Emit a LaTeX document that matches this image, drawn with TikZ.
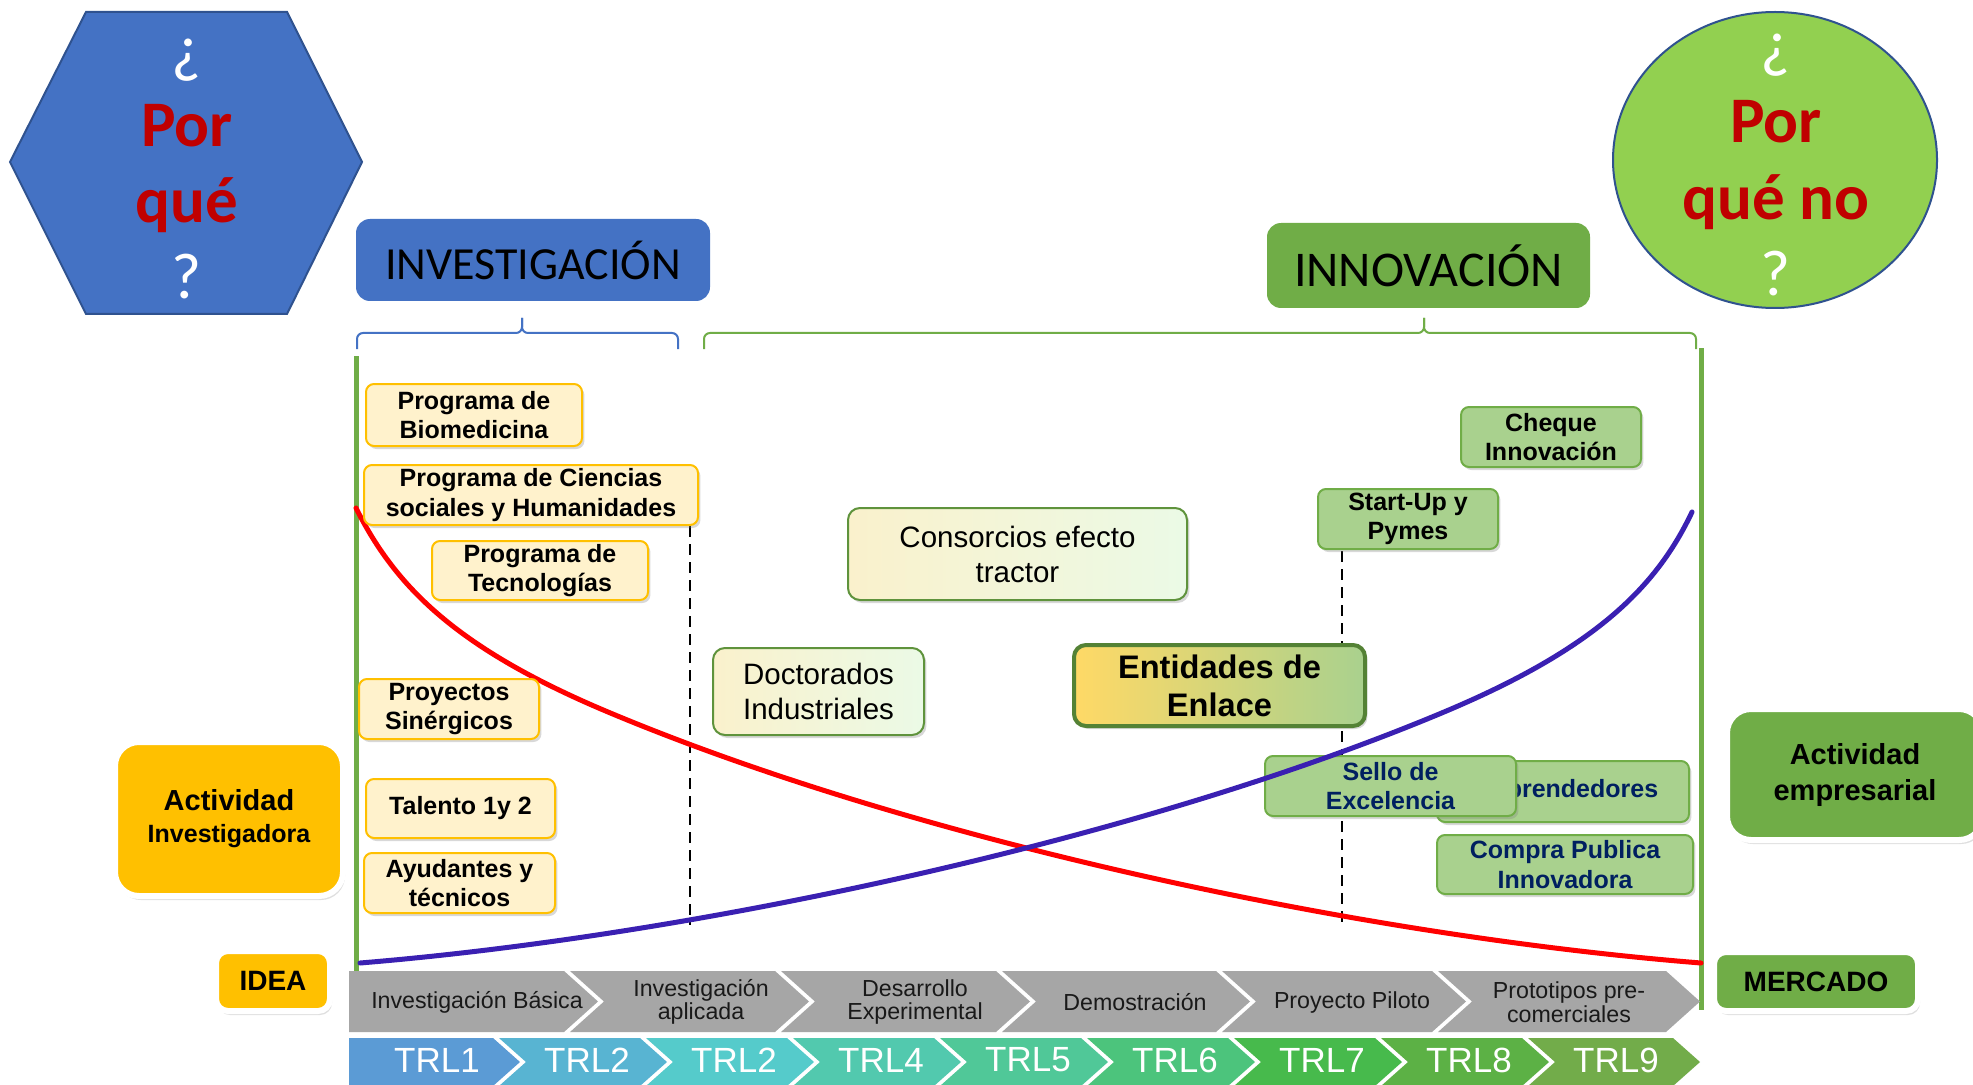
\documentclass[tikz,border=0pt]{standalone}
\usepackage{fontspec}
\setmainfont{Liberation Sans}
\newfontfamily\calibri{Carlito}
\usetikzlibrary{shapes.geometric,shadows}

\definecolor{azul}{HTML}{4472C4}
\definecolor{azulborde}{HTML}{2F528F}
\definecolor{rojo}{HTML}{C00000}
\definecolor{verde}{HTML}{70AD47}
\definecolor{verdeosc}{HTML}{548235}
\definecolor{verdeclaro}{HTML}{92D050}
\definecolor{verdebox}{HTML}{A9D18E}
\definecolor{amarillo}{HTML}{FFC000}
\definecolor{crema}{HTML}{FFF2CC}
\definecolor{gris}{HTML}{A6A6A6}
\definecolor{marino}{HTML}{002060}
\definecolor{violeta}{HTML}{3A20B2}
\definecolor{lcrema}{HTML}{FAF1CC}
\definecolor{lverde}{HTML}{CDF3C2}
\definecolor{lblanco}{HTML}{EBFAE6}
\definecolor{entamar}{HTML}{FFD966}
% niveles TRL
\definecolor{trl1}{HTML}{5B9BD5}
\definecolor{trl2}{HTML}{58B4D2}
\definecolor{trl3}{HTML}{55CBCB}
\definecolor{trl4}{HTML}{52C9AE}
\definecolor{trl5}{HTML}{50C898}
\definecolor{trl6}{HTML}{4CC47C}
\definecolor{trl7}{HTML}{47BA4C}
\definecolor{trl8}{HTML}{5CB145}
\definecolor{trl9}{HTML}{72AC4A}

\tikzset{
  signo/.style={anchor=base, inner sep=0pt, text=white, font=\calibri\fontsize{32.5}{38}\selectfont},
  pregunta/.style={anchor=base, inner sep=0pt, text=rojo, font=\calibri\bfseries\fontsize{32.5}{38}\selectfont},
  titulo/.style={rounded corners=7pt, inner sep=0pt},
  llave/.style={line width=1pt, rounded corners=3pt},
  eje/.style={verde, line width=2.5pt},
  corte/.style={black, line width=1.25pt, dash pattern=on 5.5pt off 3.5pt},
  sombra/.style={drop shadow={shadow xshift=1.2pt, shadow yshift=-1.5pt, opacity=0.3}},
  ybox/.style={draw=amarillo, fill=crema, line width=1pt, rounded corners=4pt, align=center,
    inner sep=0pt, font=\bfseries\fontsize{12.5}{14.8}\selectfont, sombra},
  gbox/.style={draw=verde, fill=verdebox, line width=1pt, rounded corners=4pt, align=center,
    inner sep=0pt, font=\bfseries\fontsize{12.5}{14.8}\selectfont, sombra},
  lbox/.style={draw=verde!85!black, left color=lcrema, middle color=lverde, right color=lblanco,
    line width=1pt, rounded corners=6pt, align=center, inner sep=0pt,
    font=\fontsize{14.75}{17.5}\selectfont, sombra},
  sidebox/.style={draw=white, line width=3pt, align=center, inner sep=0pt,
    drop shadow={shadow xshift=1pt, shadow yshift=-2pt, opacity=0.25}},
  fase/.style={align=center, inner sep=0pt, text=black!90, font=\fontsize{11.6}{11.8}\selectfont},
  trl/.style={inner sep=0pt, text=white, font=\fontsize{17.5}{20}\selectfont},
  curva/.style={line width=2.5pt, line cap=round},
}

\begin{document}
\begin{tikzpicture}[x=0.5pt, y=-0.5pt]
\useasboundingbox (0,0) rectangle (1973,1085);
\fill[white] (0,0) rectangle (1973,1085);

% preguntas
\draw[fill=azul, draw=azulborde, line width=1pt] (86,12) -- (287,12) -- (362,162) -- (287,314) -- (86,314) -- (10,162) -- cycle;
\node[signo] (hex1) at (187,71) {¿};
\node[pregunta] (hex2) at (187,147) {Por};
\node[pregunta] (hex3) at (187,223) {qué};
\node[signo] (hex4) at (187,299) {?};

\node[ellipse, draw=azulborde, fill=verdeclaro, line width=1pt, minimum width=162pt, minimum height=148pt, inner sep=0pt] (elipse) at (1775,160) {};
\node[signo] (eli1) at (1776,66) {¿};
\node[pregunta] (eli2) at (1776,143) {Por};
\node[pregunta] (eli3) at (1776,220) {qué no};
\node[signo] (eli4) at (1776,296) {?};

% titulos y llaves
\node[titulo, fill=azul, minimum width=177pt, minimum height=41pt, font=\calibri\fontsize{23}{27}\selectfont] (inv) at (533,260) {INVESTIGACIÓN};
\node[titulo, fill=verde, minimum width=161.5pt, minimum height=42.5pt, font=\calibri\fontsize{25}{29}\selectfont] (inn) at (1428.5,265.5) {INNOVACIÓN};

\draw[llave, azul] (357,349) |- (522,333) -- (522,318);
\draw[llave, azul] (522,318) -- (522,333) -| (678,349);
\draw[llave, verde] (704,349) |- (1424,333) -- (1424,318);
\draw[llave, verde] (1424,318) -- (1424,333) -| (1696,349);

% ejes
\draw[eje] (356,356) -- (356,1016);
\draw[eje] (1701,348) -- (1701,1010);
\draw[corte] (690,526) -- (690,925);
\draw[corte] (1342,551) -- (1342,925);

% curva roja
\draw[curva, red] (356,508) .. controls (396,588) and (458,649) .. (608,712)
  .. controls (908,838) and (1351,935) .. (1701,963);

% programas
\node[ybox, minimum width=108pt, minimum height=31pt] (bio) at (474,415) {Programa de\\Biomedicina};
\node[ybox, minimum width=167pt, minimum height=30pt] (cien) at (531,495) {Programa de Ciencias\\sociales y Humanidades};
\node[ybox, minimum width=108pt, minimum height=29.5pt] (tecn) at (540,570.5) {Programa de\\Tecnologías};
\node[ybox, minimum width=90pt, minimum height=30pt] (proy) at (449,709) {Proyectos\\Sinérgicos};
\node[ybox, minimum width=94.5pt, minimum height=29.5pt] (tal) at (460.5,808.5) {Talento 1y 2};
\node[ybox, minimum width=95.5pt, minimum height=30pt] (ayu) at (459.5,883) {Ayudantes y\\técnicos};

\node[lbox, minimum width=169.5pt, minimum height=46pt] (cons) at (1017.5,554) {Consorcios efecto\\tractor};
\node[lbox, minimum width=105.5pt, minimum height=43.5pt] (doct) at (818.5,691.5) {Doctorados\\Industriales};
\node[lbox, draw=verdeosc, line width=2pt, left color=entamar, middle color=verde, right color=verdebox,
  font=\bfseries\fontsize{16.3}{19}\selectfont, minimum width=145.5pt, minimum height=40.5pt] (ent) at (1219.5,685.5) {Entidades de\\Enlace};

\node[gbox, minimum width=90pt, minimum height=30pt] (cheq) at (1551,437) {Cheque\\Innovación};
\node[gbox, minimum width=90pt, minimum height=30pt] (start) at (1408,519) {Start-Up y\\Pymes};
\node[gbox, text=marino, minimum width=126pt, minimum height=30.5pt] (emp) at (1563,791.5) {Emprendedores};
\node[gbox, text=marino, minimum width=125.5pt, minimum height=30pt] (sello) at (1390.5,786) {Sello de\\Excelencia};
\node[gbox, text=marino, minimum width=128pt, minimum height=29.5pt] (compra) at (1565,864.5) {Compra Publica\\Innovadora};

% curva azul
\draw[curva, violeta] (360,963) .. controls (701,935) and (1144,838) .. (1444,712)
  .. controls (1594,649) and (1656,588) .. (1692,512);

% actividades
\node[sidebox, fill=amarillo, rounded corners=12pt, minimum width=114pt, minimum height=77pt,
  font=\bfseries\fontsize{12.5}{16}\selectfont] (actinv) at (229,819) {{\fontsize{14.5}{16}\selectfont Actividad}\\Investigadora};
\node[sidebox, fill=verde, rounded corners=12pt, minimum width=128pt, minimum height=65.5pt,
  font=\bfseries\fontsize{14.5}{18}\selectfont] (actemp) at (1855,774.5) {Actividad\\empresarial};
\node[sidebox, fill=amarillo, rounded corners=6pt, minimum width=57pt, minimum height=30pt,
  font=\bfseries\fontsize{14}{16}\selectfont] (idea) at (273,981) {IDEA};
\node[sidebox, fill=verde, rounded corners=6pt, minimum width=102pt, minimum height=29.5pt,
  font=\bfseries\fontsize{14}{16}\selectfont] (merc) at (1816,981.5) {MERCADO};

% fases
\foreach \l/\r/\n in {349/564/0, 570/775/34, 781/996/34, 1002/1216/34, 1222/1432/34, 1438/1666/34}
  \fill[gris] (\l,971) -- (\r,971) -- (\r+34,1001.5) -- (\r,1032) -- (\l,1032) -- (\l+\n,1001.5) -- cycle;
\foreach \x/\t [count=\i] in {477/{Investigación Básica}, 701/{Investigación\\aplicada}, 915/{Desarrollo\\Experimental},
  1135/{Demostración}, 1352/{Proyecto Piloto}, 1569/{Prototipos pre-\\comerciales}}
  \node[fase] (fase\i) at (\x,1002) {\t};

% niveles TRL
\foreach \l/\r/\n [count=\i] in {349/493/0, 499/640/27, 646/787/27, 793/934/27,
  940/1081/27, 1087/1228/27, 1234/1375/27, 1381/1522/27, 1528/1673/27}
  \fill[trl\i] (\l,1038) -- (\r,1038) -- (\r+27,1062) -- (\r,1086) -- (\l,1086) -- (\l+\n,1062) -- cycle;
\foreach \x/\t [count=\i] in {437/TRL1, 587/TRL2, 734/TRL2, 881/TRL4, 1028/TRL5, 1175/TRL6, 1322/TRL7, 1469/TRL8, 1616/TRL9}
  \node[trl] (trl\i) at (\x,1060) {\t};
\end{tikzpicture}
\end{document}
